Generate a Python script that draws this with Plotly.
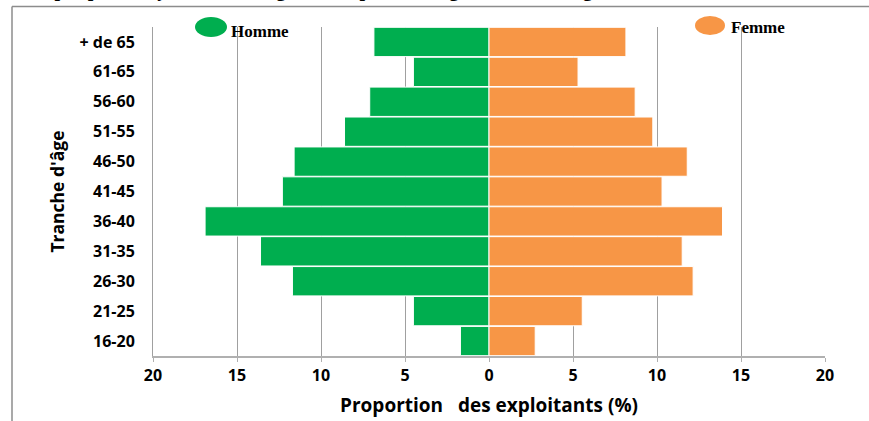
import plotly.graph_objects as go

categories = ["16-20", "21-25", "26-30", "31-35", "36-40", "41-45",
              "46-50", "51-55", "56-60", "61-65", "+ de 65"]
homme = [1.7, 4.5, 11.7, 13.6, 16.9, 12.3, 11.6, 8.6, 7.1, 4.5, 6.85]
femme = [2.75, 5.55, 12.15, 11.5, 13.9, 10.3, 11.8, 9.75, 8.7, 5.3, 8.15]
tick_vals = [-20, -15, -10, -5, 0, 5, 10, 15, 20]
tick_text = ["20", "15", "10", "5", "0", "5", "10", "15", "20"]

W, H = 869, 421
ML, MR, MT, MB = 153, 44, 27, 65
PW, PH = W - ML - MR, H - MT - MB


def px(x):
    return (x - ML) / PW


def py(y):
    return (H - MB - y) / PH


GREEN = "#00AE4F"
ORANGE = "#F79646"

fig = go.Figure()
fig.add_trace(go.Bar(
    y=categories, x=[-v for v in homme], orientation="h", name="Homme",
    marker=dict(color=GREEN, line=dict(color="white", width=1)),
    showlegend=False,
))
fig.add_trace(go.Bar(
    y=categories, x=femme, orientation="h", name="Femme",
    marker=dict(color=ORANGE, line=dict(color="white", width=1)),
    showlegend=False,
))

tickfont = dict(family="Open Sans", size=16, color="black", weight="bold")

fig.update_layout(
    width=W, height=H,
    margin=dict(l=ML, r=MR, t=MT, b=MB, autoexpand=False),
    paper_bgcolor="white", plot_bgcolor="white",
    barmode="relative", bargap=0.02,
    xaxis=dict(
        range=[-20, 20], tickvals=tick_vals, ticktext=tick_text,
        automargin=False,
        showgrid=True, gridcolor="#a0a0a0", gridwidth=1,
        zeroline=False, showline=True, linecolor="#b0b0b0", linewidth=1.5,
        ticks="outside", ticklen=4, tickcolor="#b0b0b0",
        tickfont=tickfont,
        title=dict(text="Proportion   des exploitants (%)",
                   font=dict(family="Open Sans", size=19, color="black", weight="bold"),
                   standoff=14),
    ),
    yaxis=dict(
        categoryorder="array", categoryarray=categories,
        range=[-0.5, 10.5], automargin=False,
        showgrid=False, zeroline=False, showline=True, linecolor="#a0a0a0", linewidth=1,
        ticks="", tickfont=tickfont, ticklabelstandoff=14,
        title=dict(text="Tranche d'âge",
                   font=dict(family="Open Sans", size=17.5, color="black", weight="bold"),
                   standoff=10),
    ),
)

shapes = [
    # outer frame lines
    dict(type="line", xref="paper", yref="paper", x0=px(12), x1=px(W), y0=py(6.5), y1=py(6.5),
         line=dict(color="#8c8c8c", width=1.5)),
    dict(type="line", xref="paper", yref="paper", x0=px(12), x1=px(12), y0=py(6.5), y1=py(H),
         line=dict(color="#8c8c8c", width=1.5)),
    # legend markers
    dict(type="circle", xref="paper", yref="paper", x0=px(195), x1=px(227), y0=py(17), y1=py(37),
         fillcolor=GREEN, line=dict(width=0)),
    dict(type="circle", xref="paper", yref="paper", x0=px(695), x1=px(725), y0=py(16), y1=py(35),
         fillcolor=ORANGE, line=dict(width=0)),
]
fig.update_layout(shapes=shapes)

legfont = dict(family="Liberation Serif", size=17, color="black", weight="bold")
fig.add_annotation(text="Homme", xref="paper", yref="paper", x=px(229), y=py(31),
                   xanchor="left", yanchor="middle", showarrow=False, font=legfont)
fig.add_annotation(text="Femme", xref="paper", yref="paper", x=px(729), y=py(28),
                   xanchor="left", yanchor="middle", showarrow=False, font=legfont)
fig.add_annotation(
    text="Graphique 3 : Pyramide des âges des exploitants agricoles de la région du Nord-Ouest",
    xref="paper", yref="paper", x=px(18), y=py(3), xanchor="left", yanchor="bottom",
    showarrow=False, font=dict(family="Liberation Serif", size=20, color="black", weight="bold"))

fig.write_html(
    "out.html",
    config={"displayModeBar": False},
    post_script="document.body.style.margin='0px';document.body.style.overflow='hidden';",
)
